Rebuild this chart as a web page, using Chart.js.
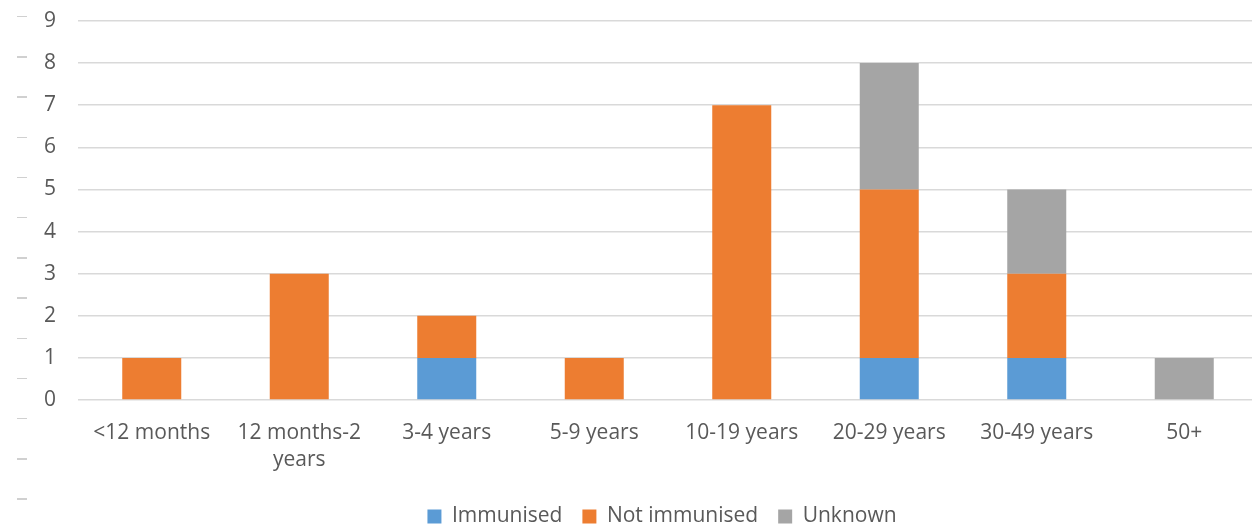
<!DOCTYPE html>
<html>
<head>
<meta charset="utf-8">
<script src="https://cdn.jsdelivr.net/npm/chart.js@4"></script>
<style>
  body { margin: 0; background: #fff; overflow: hidden; }
  #wrap { position: absolute; left: 0; top: 0; width: 1258px; height: 526px; }
  /* faint ruler dashes down the left edge */
  #ruler { position: absolute; left: 17px; top: 16px; width: 10px; height: 490px;
    background: repeating-linear-gradient(to bottom, #d0d0d0 0, #d0d0d0 1.5px, transparent 1.5px, transparent 40.2px); }
</style>
</head>
<body>
<div id="ruler"></div>
<div id="wrap"><canvas id="myChart"></canvas></div>
<script>
// age groups and case counts by immunisation status
const ageGroups = ['<12 months', ['12 months-2', 'years'], '3-4 years', '5-9 years', '10-19 years', '20-29 years', '30-49 years', '50+'];
const immunised = [0, 0, 1, 0, 0, 1, 1, 0];
const notImmunised = [1, 3, 1, 1, 7, 4, 2, 0];
const unknown = [0, 0, 0, 0, 0, 3, 2, 1];
const yTicks = [0, 1, 2, 3, 4, 5, 6, 7, 8, 9];

const textColor = '#595959';
const font = { family: '"Open Sans", sans-serif', size: 21 };

// the legend sits a bit lower and more to the right than chart.js puts it
const legendNudge = {
  id: 'legendNudge',
  afterLayout(chart) {
    const lg = chart.legend;
    lg.left += 33; lg.right += 33;
    lg.top += 11; lg.bottom += 11;
  }
};

const ctx = document.getElementById('myChart').getContext('2d');
const myChart = new Chart(ctx, {
  type: 'bar',
  data: {
    labels: ageGroups,
    datasets: [
      { label: 'Immunised', data: immunised, backgroundColor: '#5B9BD5' },
      { label: 'Not immunised', data: notImmunised, backgroundColor: '#ED7D31' },
      { label: 'Unknown', data: unknown, backgroundColor: '#A5A5A5' }
    ]
  },
  plugins: [legendNudge],
  options: {
    responsive: true,
    maintainAspectRatio: false,
    animation: false,
    layout: { padding: { top: 21, right: 0, bottom: 0, left: 0 } },
    datasets: { bar: { categoryPercentage: 1, barPercentage: 0.4 } },
    plugins: {
      tooltip: { enabled: false },
      legend: {
        position: 'bottom',
        labels: { color: textColor, font: font, boxWidth: 14, boxHeight: 14, padding: 20 }
      }
    },
    scales: {
      x: {
        stacked: true,
        grid: { display: false },
        border: { display: false },
        ticks: { color: textColor, font: { ...font, lineHeight: 1.3 }, padding: 11, maxRotation: 0, autoSkip: false },
        afterFit: (scale) => { scale.height = 75; }
      },
      y: {
        stacked: true,
        min: 0,
        max: 9,
        afterBuildTicks: (scale) => { scale.ticks = yTicks.map(v => ({ value: v })); },
        // invisible tick marks give the gap between labels and plot
        grid: { color: '#d9d9d9', lineWidth: 1.5, drawTicks: true, tickLength: 22, tickColor: 'rgba(0,0,0,0)' },
        border: { display: false },
        ticks: { color: textColor, font: font, padding: 0 },
        afterFit: (scale) => { scale.width = 78; }
      }
    }
  }
});
</script>
</body>
</html>
